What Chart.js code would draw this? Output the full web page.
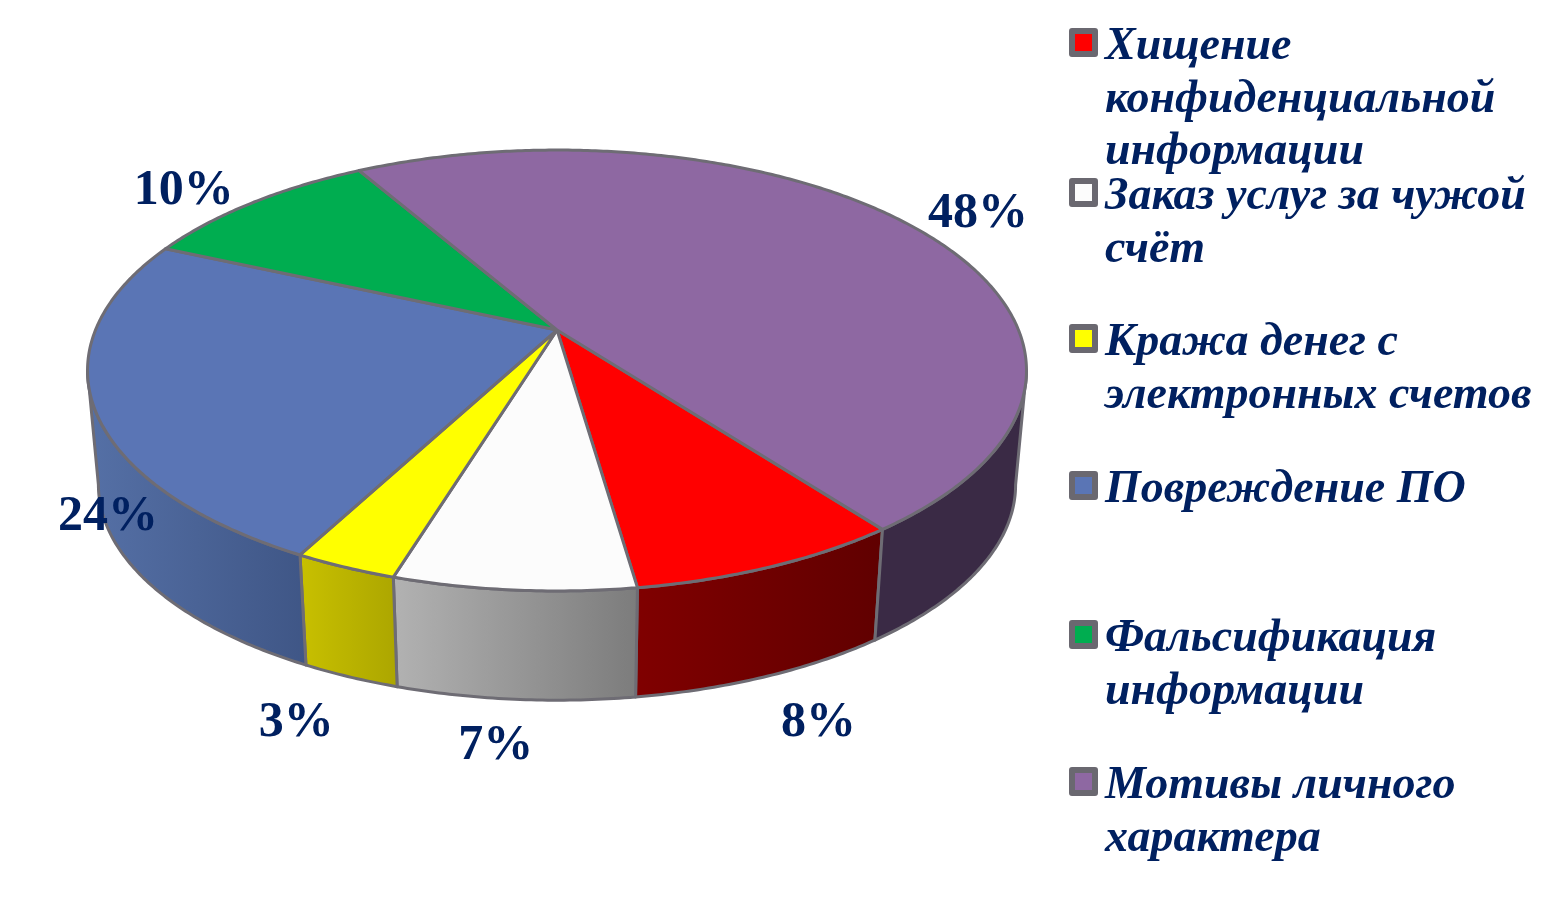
<!DOCTYPE html>
<html lang="ru">
<head>
    <meta charset="UTF-8">
    <title>Мотивы</title>
    <script src="https://cdn.jsdelivr.net/npm/chart.js"></script>
    <style>
        html, body { margin: 0; background: white; overflow: hidden; }
        #wrap { position: relative; width: 1550px; height: 912px; }
        #legend { position: absolute; left: 0; top: 0; }
        .item { position: absolute; left: 1069px; width: 480px; }
        .box { position: absolute; left: 0; top: 0; width: 17px; height: 17px; border: 6px solid #6a6870; border-radius: 3px; }
        .txt { position: absolute; left: 36px; top: -10px; white-space: pre; color: #002060;
               font: italic bold 46px/52.5px "Liberation Serif", serif; }
    </style>
</head>
<body>
<div id="wrap">
    <canvas id="pie" width="1550" height="912"></canvas>
    <div id="legend"></div>
</div>
<script>
    var categories = ["Хищение\nконфиденциальной\nинформации", "Заказ услуг за чужой\nсчёт", "Кража денег с\nэлектронных счетов", "Повреждение ПО", "Фальсификация\nинформации", "Мотивы личного\nхарактера"];
    var values = [8, 7, 3, 24, 10, 48];
    var topColors = ["#ff0000", "#fcfcfc", "#ffff00", "#5a75b5", "#00ad50", "#8e68a2"];
    var wallColors = [["#800000", "#600000"], ["#b2b2b2", "#7c7c7c"], ["#c8c000", "#aca600"], ["#5570a6", "#3f5686"], ["#00803c", "#00803c"], ["#3a2a45", "#3a2a45"]];
    var labelOffsets = [[48, 156], [-18, 156], [-49, 156], [15, 113], [-69, -12], [71, -9]];
    var legendTops = [28, 178, 324, 471, 620, 767];

    // perspective of the disc: circle angle -> screen point
    var ax = 557, ay = 330, R = 461.5, B = 213, K = 0.1837;
    var vpY = 5300, depth = 0.0232;
    var edge = "#6e6c74";

    function rim(a) {
        var w = 1 - K * Math.sin(a);
        return { x: ax + R * Math.cos(a) / w, y: ay + B * Math.sin(a) / w };
    }
    function low(a) {
        var p = rim(a);
        return { x: p.x + depth * (ax - p.x), y: p.y + depth * (vpY - p.y) };
    }
    function arcPoints(fn, a, b) {
        var pts = [], n = Math.max(2, Math.ceil(Math.abs(b - a) / 0.01));
        for (var i = 0; i <= n; i++) pts.push(fn(a + (b - a) * i / n));
        return pts;
    }

    var disc3d = {
        id: 'disc3d',
        beforeDatasetDraw: function(chart) {
            var ctx = chart.ctx, arcs = chart.getDatasetMeta(0).data;
            var lo = Math.asin(K), hi = Math.PI - lo, turn = Math.PI * 2;
            ctx.save();
            ctx.lineJoin = 'round';
            ctx.strokeStyle = edge;
            ctx.lineWidth = 3;
            // side wall, only the part that faces the viewer
            arcs.forEach(function(el, i) {
                [0, turn].forEach(function(off) {
                    var a = Math.max(el.startAngle, lo + off), b = Math.min(el.endAngle, hi + off);
                    if (b <= a) return;
                    var t = arcPoints(rim, a, b), l = arcPoints(low, b, a), all = t.concat(l);
                    var xs = all.map(function(p) { return p.x; });
                    var g = ctx.createLinearGradient(Math.min.apply(null, xs), 0, Math.max.apply(null, xs), 0);
                    g.addColorStop(0, wallColors[i][0]);
                    g.addColorStop(1, wallColors[i][1]);
                    ctx.beginPath();
                    all.forEach(function(p, j) { j ? ctx.lineTo(p.x, p.y) : ctx.moveTo(p.x, p.y); });
                    ctx.closePath();
                    ctx.fillStyle = g;
                    ctx.fill();
                    ctx.stroke();
                });
            });
            // top face
            arcs.forEach(function(el) {
                ctx.beginPath();
                ctx.moveTo(ax, ay);
                arcPoints(rim, el.startAngle, el.endAngle).forEach(function(p) { ctx.lineTo(p.x, p.y); });
                ctx.closePath();
                ctx.fillStyle = el.options.backgroundColor;
                ctx.fill();
                ctx.stroke();
            });
            // percent labels
            ctx.font = 'bold 50px "Liberation Serif", serif';
            ctx.fillStyle = '#002060';
            ctx.textAlign = 'center';
            ctx.textBaseline = 'middle';
            arcs.forEach(function(el, i) {
                var p = rim((el.startAngle + el.endAngle) / 2);
                ctx.fillText(values[i] + '%', p.x + labelOffsets[i][0], p.y + labelOffsets[i][1]);
            });
            ctx.restore();
            return false;
        }
    };

    new Chart(document.getElementById('pie').getContext('2d'), {
        type: 'pie',
        data: {
            labels: categories,
            datasets: [{ data: values, backgroundColor: topColors, borderColor: edge }]
        },
        options: {
            responsive: false,
            animation: false,
            rotation: 143,
            plugins: { legend: { display: false }, tooltip: { enabled: false } }
        },
        plugins: [disc3d]
    });

    var legend = document.getElementById('legend');
    categories.forEach(function(name, i) {
        var item = document.createElement('div');
        item.className = 'item';
        item.style.top = legendTops[i] + 'px';
        item.innerHTML = '<div class="box" style="background:' + topColors[i] + '"></div>';
        var txt = document.createElement('div');
        txt.className = 'txt';
        txt.textContent = name;
        item.appendChild(txt);
        legend.appendChild(item);
    });
</script>
</body>
</html>
